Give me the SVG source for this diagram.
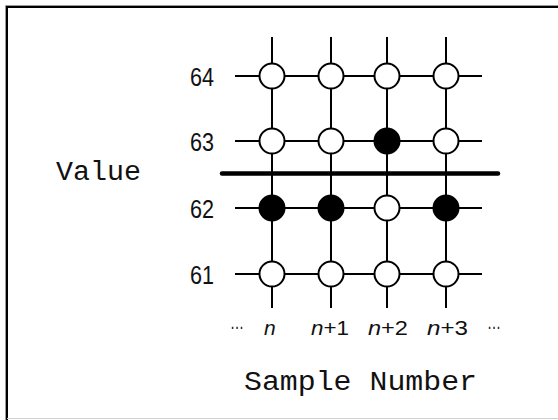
<svg xmlns="http://www.w3.org/2000/svg" width="558" height="420" viewBox="0 0 558 420">
<style>
.bg{fill:#fff}
.grid{stroke:#000;stroke-width:2;fill:none}
.thick{stroke:#000;stroke-width:4.5;stroke-linecap:round}
.o{fill:#fff;stroke:#000;stroke-width:2}
.f{fill:#000;stroke:#000;stroke-width:2}
.num{font-family:"Liberation Sans",Arial,sans-serif;font-size:26px;fill:#111}
.lab{font-family:"Liberation Sans",Arial,sans-serif;font-size:21px;fill:#111}
.mono{font-family:"Liberation Mono","Courier New",monospace;font-size:27px;fill:#111}
</style>
<rect class="bg" x="0" y="0" width="558" height="420"/>
<path d="M5.5,420 V5.5 H558" stroke="#999" stroke-width="1" fill="none"/>
<path d="M7,420 V7 H558" stroke="#000" stroke-width="2" fill="none"/>
<line x1="7" y1="418.5" x2="558" y2="418.5" stroke="#d0d0d0" stroke-width="1"/>
<g id="connectors">
<line class="grid" x1="272" y1="37" x2="272" y2="308"/>
<line class="grid" x1="331" y1="37" x2="331" y2="308"/>
<line class="grid" x1="387" y1="37" x2="387" y2="308"/>
<line class="grid" x1="446" y1="37" x2="446" y2="308"/>
<line class="grid" x1="235" y1="76" x2="482" y2="76"/>
<line class="grid" x1="235" y1="141" x2="482" y2="141"/>
<line class="grid" x1="235" y1="208" x2="482" y2="208"/>
<line class="grid" x1="235" y1="274" x2="482" y2="274"/>
<line class="thick" x1="222" y1="173.5" x2="498" y2="173.5"/>
</g>
<g id="r64c1"><circle class="o" cx="272" cy="76" r="12.5"/></g>
<g id="r64c2"><circle class="o" cx="331" cy="76" r="12.5"/></g>
<g id="r64c3"><circle class="o" cx="387" cy="76" r="12.5"/></g>
<g id="r64c4"><circle class="o" cx="446" cy="76" r="12.5"/></g>
<g id="r63c1"><circle class="o" cx="272" cy="141" r="12.5"/></g>
<g id="r63c2"><circle class="o" cx="331" cy="141" r="12.5"/></g>
<g id="r63c3"><circle class="f" cx="387" cy="141" r="12.5"/></g>
<g id="r63c4"><circle class="o" cx="446" cy="141" r="12.5"/></g>
<g id="r62c1"><circle class="f" cx="272" cy="208" r="12.5"/></g>
<g id="r62c2"><circle class="f" cx="331" cy="208" r="12.5"/></g>
<g id="r62c3"><circle class="o" cx="387" cy="208" r="12.5"/></g>
<g id="r62c4"><circle class="f" cx="446" cy="208" r="12.5"/></g>
<g id="r61c1"><circle class="o" cx="272" cy="274" r="12.5"/></g>
<g id="r61c2"><circle class="o" cx="331" cy="274" r="12.5"/></g>
<g id="r61c3"><circle class="o" cx="387" cy="274" r="12.5"/></g>
<g id="r61c4"><circle class="o" cx="446" cy="274" r="12.5"/></g>
<g id="ylabels">
<text class="num" x="190" y="85.5" textLength="24" lengthAdjust="spacingAndGlyphs">64</text>
<text class="num" x="190" y="150.5" textLength="24" lengthAdjust="spacingAndGlyphs">63</text>
<text class="num" x="190" y="218" textLength="24" lengthAdjust="spacingAndGlyphs">62</text>
<text class="num" x="190" y="283.5" textLength="24" lengthAdjust="spacingAndGlyphs">61</text>
</g>
<g id="xlabels">
<text class="lab" x="230" y="329" textLength="14" lengthAdjust="spacingAndGlyphs">…</text>
<text class="lab" x="264" y="335"><tspan font-style="italic">n</tspan></text>
<text class="lab" x="311" y="335" textLength="38" lengthAdjust="spacingAndGlyphs"><tspan font-style="italic">n</tspan>+1</text>
<text class="lab" x="368" y="335" textLength="40" lengthAdjust="spacingAndGlyphs"><tspan font-style="italic">n</tspan>+2</text>
<text class="lab" x="427" y="335" textLength="41" lengthAdjust="spacingAndGlyphs"><tspan font-style="italic">n</tspan>+3</text>
<text class="lab" x="487" y="329" textLength="14" lengthAdjust="spacingAndGlyphs">…</text>
</g>
<text class="mono" x="56" y="180" textLength="85" lengthAdjust="spacingAndGlyphs">Value</text>
<text class="mono" x="244" y="390" textLength="233" lengthAdjust="spacingAndGlyphs">Sample Number</text>
</svg>
